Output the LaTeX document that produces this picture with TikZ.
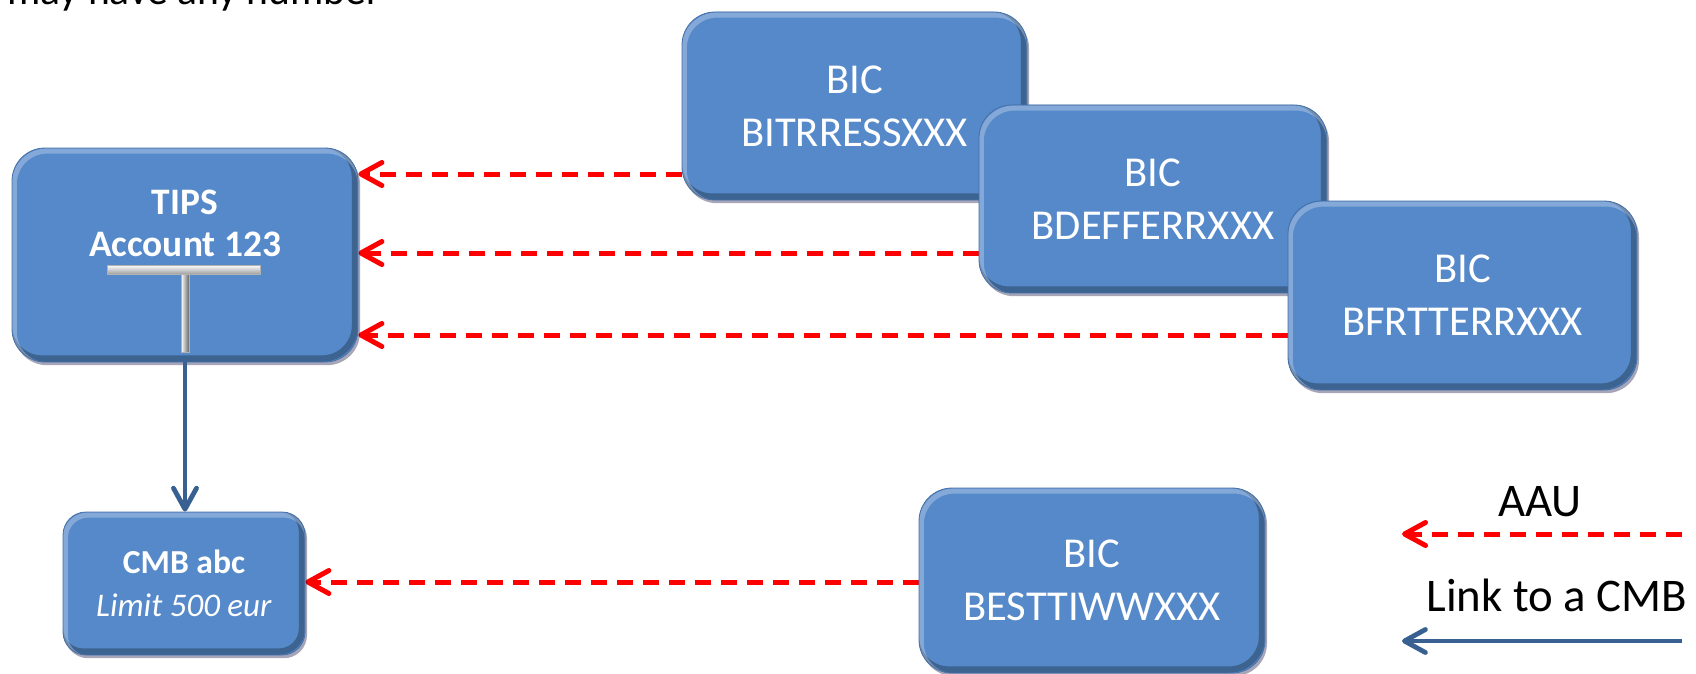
\documentclass[tikz,border=0pt]{standalone}
\usepackage{fontspec}
\setmainfont{Carlito}
\usetikzlibrary{arrows.meta,shadows,backgrounds}
\definecolor{boxblue}{RGB}{85,137,201}
\definecolor{boxedge}{RGB}{70,112,168}
\definecolor{linkblue}{RGB}{56,97,146}
\definecolor{aaured}{RGB}{255,0,0}
\tikzset{
  bevel/.style={path picture={
    \draw[rounded corners=#1, line width=3.2pt, draw=black!55!boxblue, opacity=0.5]
      ([shift={(-1.5pt,1.7pt)}]path picture bounding box.south west) rectangle
      ([shift={(-1.5pt,1.7pt)}]path picture bounding box.north east);
    \draw[rounded corners=#1, line width=2.6pt, draw=white, opacity=0.28]
      ([shift={(1.1pt,-1.5pt)}]path picture bounding box.south west) rectangle
      ([shift={(1.1pt,-1.5pt)}]path picture bounding box.north east);
  }},
  box/.style={rounded corners=16.5pt, fill=boxblue, draw=boxedge, line width=0.4pt,
    text=white, align=center, inner sep=0pt, bevel=16.5pt,
    drop shadow={shadow xshift=1.0pt, shadow yshift=-1.6pt, opacity=0.35, fill=black!80!blue}},
  bic/.style={box, minimum width=173pt, minimum height=93.5pt, font=\fontsize{21.3}{26.5}\selectfont},
  aau/.style={draw=aaured, line width=2.5pt, dash pattern=on 8pt off 5pt,
    -{Straight Barb[length=10.5pt,width=11.5pt,round]}},
  link/.style={draw=linkblue, line width=2.4pt, -{Straight Barb[length=10.5pt,width=11.5pt,round]}},
  legend/.style={font=\fontsize{23.4}{28}\selectfont, inner sep=0pt},
  tbar/.style={draw=gray!60, line width=0.3pt},
}
\begin{document}
\begin{tikzpicture}[x=0.5pt,y=-0.5pt]
\useasboundingbox (0,0) rectangle (1696,674);
\clip (0,0) rectangle (1696,674);

\node[anchor=base west, inner sep=0pt, font=\fontsize{20.8}{24}\selectfont] (title) at (7,5) {may have any number};

% boxes
\node[bic, minimum width=172.5pt, minimum height=94pt] (b1) at (854.5,106) {BIC\\BITRRESSXXX};
\node[bic, minimum width=174pt, minimum height=94pt] (b2) at (1153,199) {BIC\\BDEFFERRXXX};
\node[bic, minimum width=174.5pt, minimum height=94.5pt] (b3) at (1462.5,295.5) {BIC\\BFRTTERRXXX};

\node[box, minimum width=173pt, minimum height=107pt] (tips) at (185,255) {};
\shade[tbar, top color=white, bottom color=gray!75] (107,265) rectangle (260,274);
\shade[tbar, left color=white, right color=gray!80!black] (181,274) rectangle (189,352);
\node[text=white, align=center, inner sep=0pt, font=\bfseries\fontsize{18.7}{21}\selectfont] (tipstxt) at (185,223) {TIPS\\Account 123};

\node[box, rounded corners=11.5pt, bevel=11.5pt, minimum width=121pt, minimum height=71.5pt,
  font=\fontsize{16.5}{21.5}\selectfont] (cmb) at (184,583.5) {{\bfseries\fontsize{16.8}{21.5}\selectfont CMB abc}\\\textit{Limit 500 eur}};

\node[bic, minimum height=92.5pt] (best) at (1092,580.5) {BIC\\BESTTIWWXXX};

% connectors
\begin{scope}[on background layer]
\draw[aau] (b1.west |- 0,174) -- (tips.east |- 0,174);
\draw[aau] (b2.west |- 0,253) -- (tips.east |- 0,253);
\draw[aau] (b3.west |- 0,335) -- (tips.east |- 0,335);
\draw[aau] (best.west |- 0,582) -- (cmb.east |- 0,582);
\end{scope}
\draw[link] (tips.south) -- (tips.south |- cmb.north);

% legend
\node[legend] (aautxt) at (1540,502) {AAU};
\coordinate (aauR) at (1682,534);
\coordinate (aauL) at (1402,534);
\draw[aau] (aauR) -- (aauL);
\node[legend, anchor=west] (linktxt) at (1426,595) {Link to a CMB};
\coordinate (linkR) at (1682,641);
\coordinate (linkL) at (1402,641);
\draw[link] (linkR) -- (linkL);
\end{tikzpicture}
\end{document}
